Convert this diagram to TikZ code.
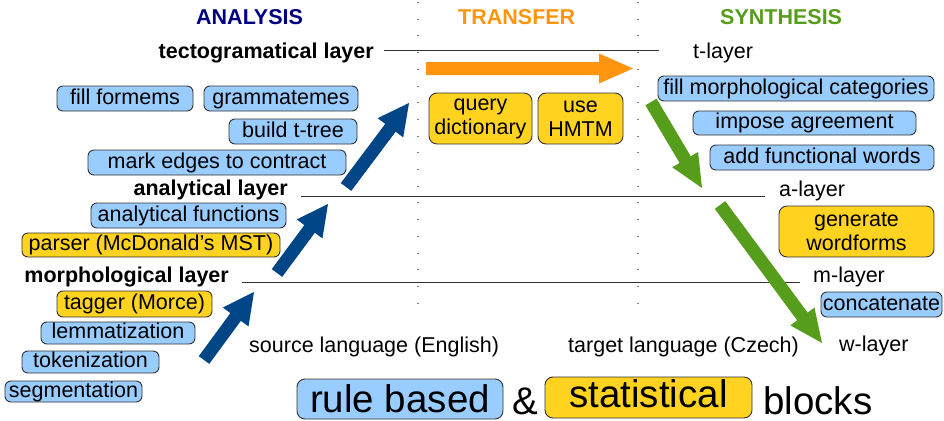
\documentclass[tikz,border=0pt]{standalone}
\usepackage{fontspec}
\setmainfont{Liberation Sans}
\usetikzlibrary{calc}
\definecolor{rbblue}{HTML}{99CCFF}
\definecolor{styellow}{HTML}{FFD320}
\definecolor{arrblue}{HTML}{004586}
\definecolor{arrorange}{HTML}{FF950E}
\definecolor{arrgreen}{HTML}{579D1C}
\definecolor{hdnavy}{HTML}{000080}
\definecolor{edgegray}{HTML}{333333}
\newcommand\fatarr[6]{%
  \coordinate (fatH) at ($(#3)!#6!(#2)$);
  \fill[#1] ($(#2)!#4!90:(#3)$) -- ($(fatH)!#4!90:(#3)$) -- ($(fatH)!#5!90:(#3)$) -- (#3)
    -- ($(fatH)!#5!-90:(#3)$) -- ($(fatH)!#4!-90:(#3)$) -- ($(#2)!#4!-90:(#3)$) -- cycle;}
\tikzset{
  txt/.style={inner sep=0pt, font=\fontsize{21.5}{24}\selectfont},
  lay/.style={txt, font=\fontsize{21.5}{24}\selectfont\bfseries},
  hdr/.style={txt, font=\fontsize{21.5}{24}\selectfont\bfseries},
  blk/.style={draw=edgegray, line width=0.9pt, rounded corners=6pt, inner sep=0pt,
    font=\fontsize{21.5}{24}\selectfont, text height=15.5pt, text depth=4.5pt, align=center},
  blk2/.style={draw=edgegray, line width=0.9pt, rounded corners=8pt, inner sep=0pt,
    font=\fontsize{21.5}{24}\selectfont, align=center},
  rule/.style={fill=rbblue},
  stat/.style={fill=styellow},
  layline/.style={draw=edgegray, line width=1pt},
  sep/.style={draw=gray, line width=1.2pt, dash pattern=on 1pt off 15.7pt},
}
\begin{document}
\begin{tikzpicture}[x=1pt, y=-1pt]
\useasboundingbox (0,0) rectangle (944,420);
% separators
\draw[sep] (418,2) -- (418,318);
\draw[sep] (638,2) -- (638,318);
% headers
\node[hdr, text=hdnavy, anchor=base west] (hA) at (196,25) {ANALYSIS};
\node[hdr, text=arrorange, anchor=base west] (hT) at (458,25) {TRANSFER};
\node[hdr, text=arrgreen, anchor=base west] (hS) at (720,25) {SYNTHESIS};
% layer lines
\coordinate (tL) at (384,51); \coordinate (tR) at (659,51);
\coordinate (aL) at (301,196); \coordinate (aR) at (765,196);
\coordinate (mL) at (242,282); \coordinate (mR) at (800,282);
\draw[layline] (tL) -- (tR);
\draw[layline] (aL) -- (aR);
\draw[layline] (mL) -- (mR);
% layer labels
\node[lay, anchor=base east] (tl) at (374,59) {tectogramatical layer};
\node[txt, anchor=base west] (tr) at (693,59) {t-layer};
\node[lay, anchor=base east] (al) at (288,195) {analytical layer};
\node[txt, anchor=base west] (ar) at (779,196) {a-layer};
\node[lay, anchor=base east] (ml) at (229,282) {morphological layer};
\node[txt, anchor=base west] (mr) at (813,282) {m-layer};
\node[txt, anchor=base west] (src) at (249,352) {source language (English)};
\node[txt, anchor=base west] (tgt) at (568,352) {target language (Czech)};
\node[txt, anchor=base west] (wl) at (839,351) {w-layer};
% analysis blocks
\node[blk, rule, minimum width=136pt, minimum height=25pt] (ff) at (125,98.5) {fill formems};
\node[blk, rule, minimum width=154pt, minimum height=25pt] (gr) at (281,98.5) {grammatemes};
\node[blk, rule, minimum width=128pt, minimum height=25pt] (bt) at (293,131.5) {build t-tree};
\node[blk, rule, minimum width=258pt, minimum height=25pt] (me) at (217,162.5) {mark edges to contract};
\node[blk, rule, minimum width=195pt, minimum height=25pt] (af) at (188.5,215.5) {analytical functions};
\node[blk, stat, minimum width=258pt, minimum height=24pt] (pa) at (151,245) {parser (McDonald\symbol{39}s MST)};
\node[blk, stat, minimum width=155pt, minimum height=26pt] (tg) at (134.5,304) {tagger (Morce)};
\node[blk, rule, minimum width=154pt, minimum height=22pt] (lm) at (118,333) {lemmatization};
\node[blk, rule, minimum width=137pt, minimum height=22pt] (tk) at (90.5,362) {tokenization};
\node[blk, rule, minimum width=137pt, minimum height=21pt] (sg) at (73.5,391.5) {segmentation};
% transfer blocks
\node[blk2, stat, minimum width=103pt, minimum height=51pt] (qd) at (480.5,118.5) {query\\dictionary};
\node[blk2, stat, minimum width=85pt, minimum height=51pt] (hm) at (580.5,118.5) {use\\HMTM};
% synthesis blocks
\node[blk, rule, minimum width=276pt, minimum height=25pt] (fm) at (796,88.5) {fill morphological categories};
\node[blk, rule, minimum width=223pt, minimum height=24pt] (ia) at (804.5,123) {impose agreement};
\node[blk, rule, minimum width=224pt, minimum height=25pt] (fw) at (822,157.5) {add functional words};
\node[blk2, stat, minimum width=155pt, minimum height=51pt] (gw) at (856.5,231.5) {generate\\wordforms};
\node[blk, rule, minimum width=121pt, minimum height=25pt] (cc) at (881.5,304.5) {concatenate};
% legend
\node[blk, rule, rounded corners=8pt, font=\fontsize{38.5}{40}\selectfont, text height=27.6pt, text depth=1.6pt,
  minimum width=206pt, minimum height=40pt] (lr) at (400,399) {rule based};
\node[txt, font=\fontsize{38.5}{40}\selectfont, anchor=base west] (amp) at (512,414) {\&};
\node[blk, stat, rounded corners=8pt, font=\fontsize{38.5}{40}\selectfont, text height=27.6pt, text depth=8.6pt,
  minimum width=207pt, minimum height=41pt] (ls) at (648.5,397.5) {statistical};
\node[txt, font=\fontsize{38.5}{40}\selectfont, anchor=base west] (blks) at (763,414) {blocks};
% arrows
\coordinate (b1s) at (204,360); \coordinate (b1e) at (254,292);
\coordinate (b2s) at (277,273); \coordinate (b2e) at (328,204);
\coordinate (b3s) at (346,187); \coordinate (b3e) at (409,103);
\coordinate (os) at (426,68.5); \coordinate (oe) at (633,68.5);
\coordinate (g1s) at (651,102); \coordinate (g1e) at (702,188);
\coordinate (g2s) at (720,205); \coordinate (g2e) at (822,343);
\fatarr{arrblue}{b1s}{b1e}{6.5pt}{16pt}{31pt}
\fatarr{arrblue}{b2s}{b2e}{6.5pt}{16pt}{31pt}
\fatarr{arrblue}{b3s}{b3e}{6.5pt}{16pt}{31pt}
\fatarr{arrorange}{os}{oe}{6.5pt}{15pt}{34pt}
\fatarr{arrgreen}{g1s}{g1e}{6.5pt}{15pt}{33pt}
\fatarr{arrgreen}{g2s}{g2e}{6.5pt}{15pt}{33pt}
\end{tikzpicture}
\end{document}
